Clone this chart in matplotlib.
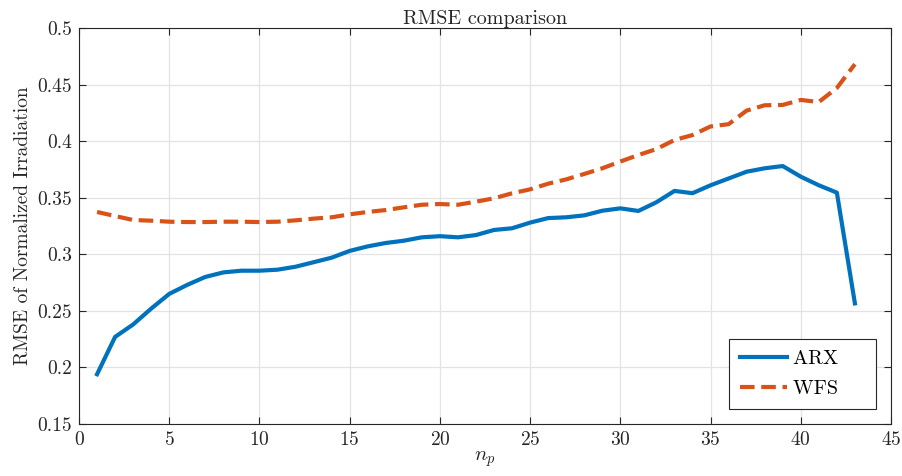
import numpy as np
import matplotlib
matplotlib.use("Agg")
import matplotlib.pyplot as plt

plt.rcParams['font.family'] = 'serif'
plt.rcParams['font.serif'] = ['cmr10', 'DejaVu Serif']
plt.rcParams['mathtext.fontset'] = 'cm'
plt.rcParams['axes.formatter.use_mathtext'] = True

n_p = list(range(1, 44))
names = ['ARX', 'WFS']

arx = [0.194, 0.227, 0.238, 0.252, 0.265, 0.273, 0.280, 0.284, 0.2855, 0.2855,
       0.2864, 0.289, 0.293, 0.297, 0.303, 0.307, 0.310, 0.312, 0.315, 0.316,
       0.315, 0.317, 0.3215, 0.323, 0.328, 0.332, 0.3327, 0.3344, 0.3385, 0.3406,
       0.3383, 0.346, 0.356, 0.354, 0.361, 0.367, 0.373, 0.376, 0.378, 0.3686,
       0.361, 0.3545, 0.2566]

wfs = [0.3374, 0.3338, 0.3303, 0.3297, 0.3288, 0.3285, 0.3285, 0.3288, 0.3288, 0.3285,
       0.3288, 0.330, 0.3315, 0.3327, 0.3353, 0.3374, 0.3391, 0.3415, 0.3438, 0.3444,
       0.3438, 0.3465, 0.3495, 0.3539, 0.3574, 0.3624, 0.3662, 0.371, 0.376, 0.382,
       0.3877, 0.393, 0.401, 0.4054, 0.413, 0.415, 0.427, 0.4317, 0.432, 0.4364,
       0.4346, 0.447, 0.468]

fig = plt.figure(figsize=(9.03, 4.76), dpi=100)
ax = fig.add_axes([0.0875, 0.1092, 0.8992, 0.832])

# trailing spaces widen the legend box on the right like the matlab one
ax.plot(n_p, arx, color='#0072BD', lw=3, label=names[0] + '    ')
ax.plot(n_p, wfs, color='#D95319', lw=3, ls=(0, (3.5, 1.6)), label=names[1] + '    ')

ax.set_xlim(0, 45)
ax.set_ylim(0.15, 0.5)
ax.set_xticks(np.arange(0, 46, 5))
ax.set_yticks(np.arange(0.15, 0.501, 0.05))
ax.set_yticklabels(['0.15', '0.2', '0.25', '0.3', '0.35', '0.4', '0.45', '0.5'])
ax.grid(True, color='#e3e3e3', lw=0.9)
ax.set_axisbelow(True)
ax.tick_params(direction='in', top=True, right=True, labelsize=14, colors='#262626',
               length=5, width=0.8, pad=5)
for s in ax.spines.values():
    s.set_color('#262626')
    s.set_linewidth(0.8)

ax.set_title('RMSE comparison', fontsize=14.5, color='#262626', pad=3)
ax.set_xlabel('$n_p$', fontsize=15, color='#262626', labelpad=0)
ax.set_ylabel('RMSE of Normalized Irradiation', fontsize=14, color='#262626', labelpad=4)

leg = ax.legend(loc='lower right', fontsize=14.5, fancybox=False, framealpha=1,
                edgecolor='#262626', handlelength=2.3, handletextpad=0.3,
                borderpad=0.55, labelspacing=0.6, borderaxespad=0,
                bbox_to_anchor=(0.9815, 0.038))
leg.get_frame().set_linewidth(0.8)

plt.savefig('out.png', dpi=100)
